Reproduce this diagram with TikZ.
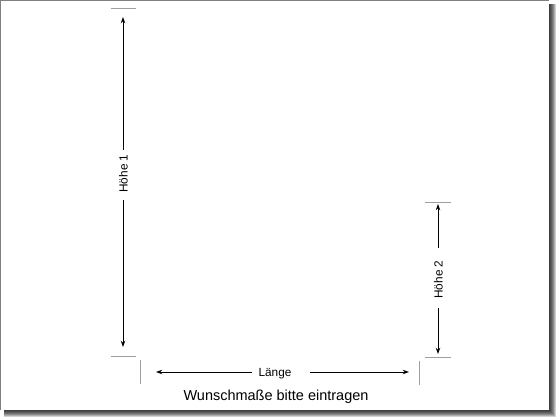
\documentclass[tikz,border=0pt]{standalone}
\usepackage{fontspec}
\setmainfont{Liberation Sans}
\usetikzlibrary{arrows.meta}

\tikzset{
  dimline/.style={draw=black, line width=0.7pt, -{Stealth[length=4.5pt,width=3.2pt]}},
  tickline/.style={draw=gray!75, line width=0.7pt},
  dimlabel/.style={font=\fontsize{8.4}{10}\selectfont, inner sep=0pt},
}

\begin{document}
\begin{tikzpicture}[x=0.025cm,y=-0.025cm]
\useasboundingbox (0,0) rectangle (560,420);
% sheet with shadow
\foreach \d in {1,...,7}
    \fill[black,opacity=0.18] (4,4) rectangle (549+\d,410+\d);
\fill[white] (0,0) rectangle (549,410);
\draw[gray, line width=0.8pt] (0,410) -- (0,0) -- (549,0);

% Hoehe 1
\draw[tickline] (111,8) -- (136,8);
\draw[tickline] (111,356) -- (136,356);
\node[dimlabel, rotate=90] (h1) at (123.5,173.5) {Höhe 1};
\coordinate (h1a) at (123,150);
\coordinate (h1b) at (123,200);
\coordinate (h1top) at (123,17);
\coordinate (h1bot) at (123,347);
\draw[dimline] (h1a) -- (h1top);
\draw[dimline] (h1b) -- (h1bot);

% Hoehe 2
\draw[tickline] (425,202) -- (451,202);
\draw[tickline] (425,357) -- (451,357);
\node[dimlabel, rotate=90] (h2) at (438.5,279.5) {Höhe 2};
\coordinate (h2a) at (438,248);
\coordinate (h2b) at (438,308);
\coordinate (h2top) at (438,204);
\coordinate (h2bot) at (438,354);
\draw[dimline] (h2a) -- (h2top);
\draw[dimline] (h2b) -- (h2bot);

% Laenge
\draw[tickline] (140,360) -- (140,384);
\draw[tickline] (419,361) -- (419,385);
\node[dimlabel, anchor=base] (len) at (275,376.5) {Länge};
\coordinate (la) at (252,372);
\coordinate (lb) at (310,372);
\coordinate (lleft) at (156,372);
\coordinate (lright) at (409,372);
\draw[dimline] (la) -- (lleft);
\draw[dimline] (lb) -- (lright);

\node[font=\fontsize{10.3}{12}\selectfont, inner sep=0pt, anchor=base] (note) at (276,400) {Wunschmaße bitte eintragen};
\end{tikzpicture}
\end{document}
